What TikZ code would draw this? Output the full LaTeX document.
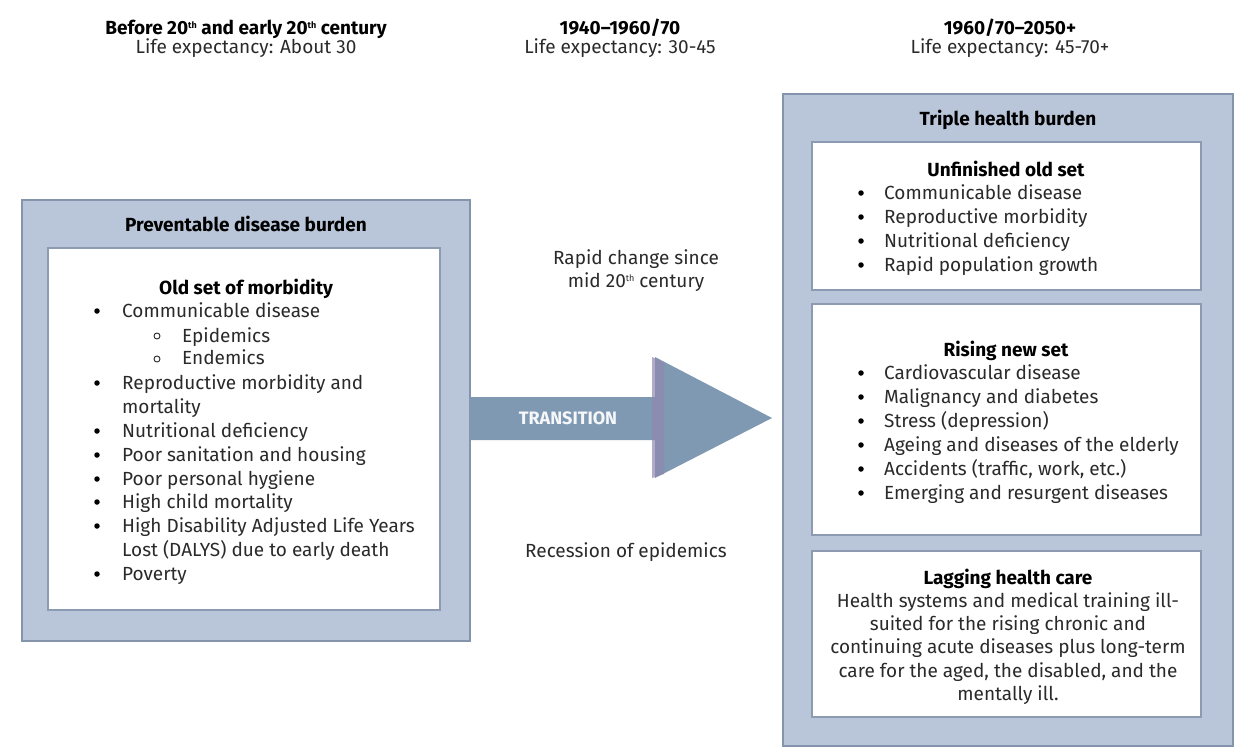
\documentclass[tikz,border=0pt]{standalone}
\usepackage{fontspec}
\setmainfont{Fira Sans}
\definecolor{outerfill}{HTML}{B9C5D8}
\definecolor{outerline}{HTML}{8494AD}
\definecolor{innerline}{HTML}{8C9AB2}
\definecolor{arrowfill}{HTML}{7F99B3}
\definecolor{arrowedge}{HTML}{8F88B0}
\definecolor{txt}{HTML}{2A2A2A}
\newcommand{\supth}{\raisebox{6pt}{\fontsize{9}{9}\selectfont th}}
\tikzset{
  outerbox/.style={draw=outerline,line width=2.5pt,fill=outerfill,inner sep=0pt},
  innerbox/.style={draw=innerline,line width=2pt,fill=white,inner sep=0pt},
  lbl/.style={font=\fontsize{19}{22}\selectfont,text=txt,inner sep=0pt},
  hd/.style={font=\fontsize{19}{22}\selectfont\bfseries,text=black,inner sep=0pt},
  bul/.style={circle,fill=black,inner sep=0pt,minimum size=5.5pt},
  subbul/.style={circle,draw=txt,line width=0.9pt,inner sep=0pt,minimum size=6pt},
}
\begin{document}
\begin{tikzpicture}[x=1pt,y=-1pt]
\useasboundingbox (0,0) rectangle (1237,753);
\fill[white] (0,0) rectangle (1237,753);
% top headings
\node[hd,anchor=base] (h1) at (246,34) {Before 20\supth{} and early 20\supth{} century};
\node[lbl,anchor=base] (h1b) at (246,53) {Life expectancy: About 30};
\node[hd,anchor=base] (h2) at (620,34) {1940–1960/70};
\node[lbl,anchor=base] (h2b) at (620,53) {Life expectancy: 30-45};
\node[hd,anchor=base] (h3) at (1010,34) {1960/70–2050+};
\node[lbl,anchor=base] (h3b) at (1010,53) {Life expectancy: 45-70+};
% left box
\node[outerbox,minimum width=448pt,minimum height=441pt] (lout) at (246,420.5) {};
\node[innerbox,minimum width=392pt,minimum height=362pt] (lin) at (244,429) {};
\node[hd,anchor=base] (ltitle) at (246,231) {Preventable disease burden};
\node[hd,anchor=base] (lsub) at (246,294) {Old set of morbidity};
\foreach \y/\t [count=\i] in {317/Communicable disease,389/Reproductive morbidity and,437/Nutritional deficiency,461/Poor sanitation and housing,485/Poor personal hygiene,508/High child mortality,532/High Disability Adjusted Life Years,580/Poverty}{
  \node[bul] (lb\i) at (97,\y-6) {};
  \node[lbl,anchor=base west] (lt\i) at (122,\y) {\t};
}
\node[lbl,anchor=base west] (lc1) at (122,413) {mortality};
\node[lbl,anchor=base west] (lc2) at (122,556) {Lost (DALYS) due to early death};
\node[subbul] (sb1) at (157,336) {};
\node[lbl,anchor=base west] (st1) at (182,342) {Epidemics};
\node[subbul] (sb2) at (157,359) {};
\node[lbl,anchor=base west] (st2) at (182,364) {Endemics};
% middle
\node[lbl,anchor=base] (m1) at (636,264) {Rapid change since};
\node[lbl,anchor=base] (m2) at (636,287) {mid 20\supth{} century};
\node[lbl,anchor=base] (m3) at (626,557) {Recession of epidemics};
\fill[arrowfill] (470,397) -- (655,397) -- (655,357) -- (772,418) -- (655,478) -- (655,440) -- (470,440) -- cycle;
\fill[arrowedge,opacity=0.7] (652,357) -- (664,362) -- (664,474) -- (652,478) -- cycle;
\node[font=\fontsize{18}{18}\selectfont\bfseries,text=white!92!arrowfill,inner sep=0pt] (tr) at (568,418) {TRANSITION};
% right box
\node[outerbox,minimum width=450pt,minimum height=652pt] (rout) at (1008,420) {};
\node[hd,anchor=base] (rtitle) at (1008,125) {Triple health burden};
\node[innerbox,minimum width=389pt,minimum height=148pt] (r1) at (1006.5,216) {};
\node[innerbox,minimum width=389pt,minimum height=231pt] (r2) at (1006.5,419.5) {};
\node[innerbox,minimum width=389pt,minimum height=166pt] (r3) at (1006.5,634) {};
\node[hd,anchor=base] (r1t) at (1006,176) {Unfinished old set};
\foreach \y/\t [count=\i] in {199/Communicable disease,223/Reproductive morbidity,247/Nutritional deficiency,271/Rapid population growth}{
  \node[bul] (ab\i) at (861,\y-6) {};
  \node[lbl,anchor=base west] (at\i) at (884,\y) {\t};
}
\node[hd,anchor=base] (r2t) at (1006,356) {Rising new set};
\foreach \y/\t [count=\i] in {379/Cardiovascular disease,403/Malignancy and diabetes,427/Stress (depression),451/Ageing and diseases of the elderly,475/{Accidents (traffic, work, etc.)},499/Emerging and resurgent diseases}{
  \node[bul] (bb\i) at (861,\y-6) {};
  \node[lbl,anchor=base west] (bt\i) at (884,\y) {\t};
}
\node[hd,anchor=base] (r3t) at (1008,584) {Lagging health care};
\foreach \y/\t [count=\i] in {607/Health systems and medical training ill-,630/suited for the rising chronic and,653/continuing acute diseases plus long-term,677/{care for the aged, the disabled, and the},700/mentally ill.}{
  \node[lbl,anchor=base] (ct\i) at (1008,\y) {\t};
}
\end{tikzpicture}
\end{document}
